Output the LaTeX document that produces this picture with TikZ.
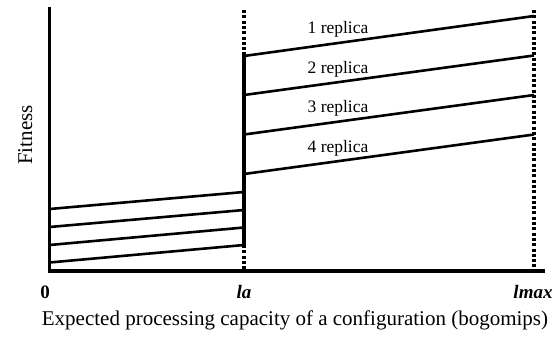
\documentclass[tikz,border=0pt]{standalone}
\usepackage{fontspec}
\setmainfont{Liberation Serif}
\begin{document}
\begin{tikzpicture}[x=1pt,y=-1pt,
  axis/.style={line width=3.8pt},
  fitline/.style={line width=2.6pt},
  guide/.style={line width=3.5pt,dash pattern=on 3pt off 2.3pt},
  replabel/.style={font=\fontsize{17.5}{19}\selectfont,anchor=base,inner sep=0pt},
  ticklabel/.style={font=\fontsize{19}{21}\selectfont\bfseries,anchor=base,inner sep=0pt},
  title/.style={font=\fontsize{21}{23}\selectfont,anchor=base,inner sep=0pt}]
\useasboundingbox (0,0) rectangle (559,341);
% axes
\coordinate (ytop) at (49.5,7);
\coordinate (origin) at (49.5,271);
\coordinate (xend) at (545,271);
\draw[axis] (ytop) -- (origin) -- (xend);
% la guide
\coordinate (latop) at (244,10);
\coordinate (lahi) at (244,52);
\coordinate (lalo) at (244,245);
\coordinate (labot) at (244,271);
\draw[guide] (latop) -- (lahi);
\draw[guide] (lalo) -- (labot);
\draw[axis] (lahi) -- (lalo);
% lmax guide
\coordinate (lmtop) at (534,10);
\coordinate (lmbot) at (534,271);
\draw[guide] (lmtop) -- (lmbot);
% left lines
\coordinate (l1a) at (49.5,209); \coordinate (l1b) at (244,192);
\coordinate (l2a) at (49.5,227); \coordinate (l2b) at (244,210);
\coordinate (l3a) at (49.5,245); \coordinate (l3b) at (244,227.5);
\coordinate (l4a) at (49.5,262.5); \coordinate (l4b) at (244,245);
\draw[fitline] (l1a) -- (l1b);
\draw[fitline] (l2a) -- (l2b);
\draw[fitline] (l3a) -- (l3b);
\draw[fitline] (l4a) -- (l4b);
% right lines
\coordinate (r1a) at (244,56); \coordinate (r1b) at (534,16);
\coordinate (r2a) at (244,95); \coordinate (r2b) at (534,55.5);
\coordinate (r3a) at (244,134.5); \coordinate (r3b) at (534,95);
\coordinate (r4a) at (244,174); \coordinate (r4b) at (534,134.5);
\draw[fitline] (r1a) -- (r1b);
\draw[fitline] (r2a) -- (r2b);
\draw[fitline] (r3a) -- (r3b);
\draw[fitline] (r4a) -- (r4b);
% labels
\node[replabel] (rep1) at (338,33) {1 replica};
\node[replabel] (rep2) at (338,73) {2 replica};
\node[replabel] (rep3) at (338,112.5) {3 replica};
\node[replabel] (rep4) at (338,152) {4 replica};
\node[ticklabel] (zero) at (45,298) {0};
\node[ticklabel] (la) at (244,298) {\itshape la};
\node[ticklabel] (lmax) at (533,298) {\itshape lmax};
\node[title] (xtitle) at (295,325) {Expected processing capacity of a configuration (bogomips)};
\node[title,rotate=90] (ytitle) at (32,135) {Fitness};
\end{tikzpicture}
\end{document}
